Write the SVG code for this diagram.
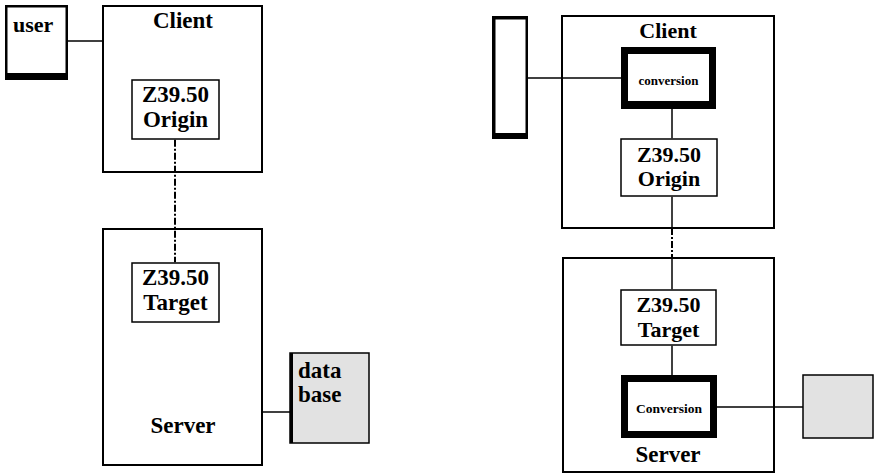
<svg xmlns="http://www.w3.org/2000/svg" width="877" height="475" viewBox="0 0 877 475">
<style>
text{font-family:"Liberation Serif","Times New Roman",serif;font-weight:bold;fill:#000}
.t{font-size:23px;text-anchor:middle}
.t2{font-size:22px;text-anchor:middle}
.box{fill:#fff;stroke:#000;stroke-width:2}
.thin{fill:#fff;stroke:#000;stroke-width:1.5}
.ln{stroke:#000;stroke-width:1.5;fill:none}
.dd{stroke:#000;stroke-width:2;fill:none;stroke-dasharray:7 2 2 2}
.db{fill:#e2e2e2;stroke:#000;stroke-width:1.5}
</style>
<rect width="877" height="475" fill="#fff"/>
<g id="client-left">
<rect class="box" x="103" y="6" width="159" height="166"/>
<text class="t" x="183" y="28">Client</text>
</g>
<g id="server-left">
<rect class="box" x="103" y="229" width="159" height="236"/>
<text class="t" x="183" y="433">Server</text>
</g>
<g id="user">
<rect x="5" y="5" width="63" height="75" fill="#000"/>
<rect x="7.5" y="7.5" width="58" height="65.5" fill="#fff"/>
<text x="13" y="32" style="font-size:22px">user</text>
</g>
<g id="origin-left">
<rect class="thin" x="132" y="80" width="87" height="59"/>
<text class="t" x="175.5" y="102">Z39.50</text>
<text class="t" x="175.5" y="127">Origin</text>
</g>
<g id="target-left">
<rect class="thin" x="132" y="263" width="87" height="59"/>
<text class="t" x="175.5" y="285">Z39.50</text>
<text class="t" x="175.5" y="310">Target</text>
</g>
<g id="database">
<rect class="db" x="290" y="353" width="79" height="90"/>
<rect x="290" y="353" width="3" height="90" fill="#000"/>
<text x="298" y="378" style="font-size:23px">data</text>
<text x="298" y="402" style="font-size:23px">base</text>
</g>
<g id="client-right">
<rect class="box" x="562" y="16" width="212" height="212"/>
<text class="t2" x="668" y="38">Client</text>
</g>
<g id="server-right">
<rect class="box" x="563" y="258" width="211" height="214"/>
<text class="t" x="668" y="462">Server</text>
</g>
<g id="user-right">
<rect x="492" y="16" width="36" height="123" fill="#000"/>
<rect x="495.5" y="19.5" width="30" height="113.5" fill="#fff"/>
</g>
<g id="conversion-client">
<rect x="621" y="47" width="95" height="62" fill="#000"/>
<rect x="628" y="54" width="81" height="47" fill="#fff"/>
<text x="668.5" y="85" style="font-size:13px;text-anchor:middle">conversion</text>
</g>
<g id="origin-right">
<rect class="thin" x="621" y="139" width="96" height="57"/>
<text class="t2" x="669" y="162">Z39.50</text>
<text class="t2" x="669" y="186">Origin</text>
</g>
<g id="target-right">
<rect class="thin" x="621" y="290" width="95" height="55"/>
<text class="t2" x="668.5" y="312">Z39.50</text>
<text class="t2" x="668.5" y="337">Target</text>
</g>
<g id="conversion-server">
<rect x="621" y="375" width="96" height="63" fill="#000"/>
<rect x="628" y="382" width="82" height="49" fill="#fff"/>
<text x="669" y="413" style="font-size:13.5px;text-anchor:middle">Conversion</text>
</g>
<g id="database-right">
<rect class="db" x="803" y="375" width="70" height="63"/>
</g>
<g id="connectors">
<line class="ln" x1="68" y1="41" x2="103" y2="41"/>
<line class="dd" x1="175" y1="139.8" x2="175" y2="262.2"/>
<line class="ln" x1="262" y1="412" x2="290" y2="412"/>
<line class="ln" x1="528" y1="78" x2="621" y2="78"/>
<line class="ln" x1="672" y1="109" x2="672" y2="138.3"/>
<line class="ln" x1="672" y1="196.8" x2="672" y2="228"/>
<line class="dd" x1="672" y1="228" x2="672" y2="258"/>
<line class="ln" x1="672" y1="258" x2="672" y2="289.3"/>
<line class="ln" x1="672" y1="345.8" x2="672" y2="375"/>
<line class="ln" x1="717" y1="407" x2="803" y2="407"/>
</g>
</svg>
